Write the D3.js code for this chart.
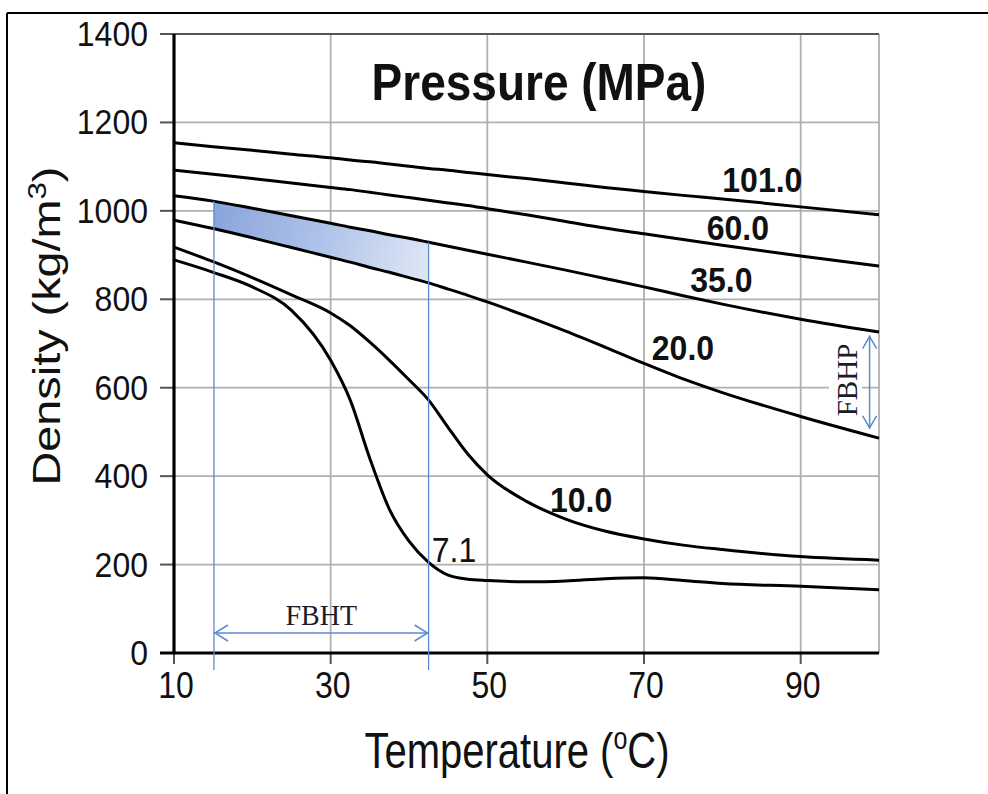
<!DOCTYPE html>
<html>
<head>
<meta charset="utf-8">
<script src="https://cdn.jsdelivr.net/npm/d3@7"></script>
<style>
  html, body { margin: 0; padding: 0; background: #fff; }
  svg { display: block; }
</style>
</head>
<body>
<svg id="chart" width="988" height="794"></svg>
<script>
// ---------------- DATA ----------------
const temperature = [10, 15, 20, 25, 30, 32.5, 35, 37.5, 40, 42.5, 45, 47.5, 50, 55, 60, 65, 70, 75, 80, 90, 100];
const density101 = [1154, 1145, 1137, 1128, 1120, 1115, 1111, 1106, 1101, 1096, 1092, 1087, 1082, 1073, 1063, 1053, 1044, 1035, 1027, 1009, 991];
const density60  = [1092, 1083, 1073, 1063, 1053, 1048, 1042, 1036, 1030, 1024, 1018, 1012, 1005, 991, 976, 961, 948, 935, 922, 898, 875];
const density35  = [1034, 1022, 1006, 989, 972, 963, 955, 946, 938, 929, 920, 911, 902, 884, 866, 847, 828, 808, 789, 755, 726];
const density20  = [979, 960, 939, 917, 895, 884, 872, 861, 849, 837, 823, 809, 794, 762, 728, 692, 655, 620, 589, 535, 486];
const density10  = [918, 885, 849, 810, 769, 740, 703, 662, 618, 572, 510, 450, 403, 343, 303, 276, 258, 244, 234, 218, 210];
const density7_1 = [889, 861, 828, 775, 662, 572, 440, 325, 253, 205, 176, 167, 164, 161, 163, 168, 170, 164, 157, 151, 143];

const pressureLabels = ["101.0", "60.0", "35.0", "20.0", "10.0", "7.1"];
const seriesValues = [density101, density60, density35, density20, density10, density7_1];
// label anchor (temperature, density) for each pressure label
const labelTemps = [80.0, 78.0, 75.9, 71.0, 58.0, 42.9];
const labelDens  = [1043, 934, 817, 663, 319, 206];

const xTicks = [10, 30, 50, 70, 90];
const yTicks = [0, 200, 400, 600, 800, 1000, 1200, 1400];
const xGrid = [30, 50, 70, 90, 100];
const yGrid = [200, 400, 600, 800, 1000, 1200];

const fbhtRange = [15.1, 42.5];   // temperature window
const fbhpRange = [507, 718];     // density window
const fbhpTemp = 98.8;

const titleText = "Pressure (MPa)";

// ---------------- SETUP ----------------
const svg = d3.select("#chart");
const x = d3.scaleLinear().domain([10, 100]).range([174, 879]);
const y = d3.scaleLinear().domain([0, 1400]).range([653, 34]);
const FONT = "'Liberation Sans', Arial, Helvetica, sans-serif";
const SERIF = "'Liberation Serif', 'Times New Roman', serif";

function interp(arr, t) {
  for (let i = 0; i < temperature.length - 1; i++) {
    if (t >= temperature[i] && t <= temperature[i + 1]) {
      const f = (t - temperature[i]) / (temperature[i + 1] - temperature[i]);
      return arr[i] + f * (arr[i + 1] - arr[i]);
    }
  }
  return arr[arr.length - 1];
}

function sText(g, px, py, str, size, opts = {}) {
  const sy = opts.sy || 1.12;
  const t = g.append("text")
    .attr("transform", `translate(${px},${py}) scale(1,${sy})`)
    .attr("font-family", opts.family || FONT)
    .attr("font-size", size)
    .attr("font-weight", opts.weight || "normal")
    .attr("text-anchor", opts.anchor || "start")
    .attr("fill", opts.fill || "#111");
  t.text(str);
  return t;
}

// ---------------- OUTER FRAME ----------------
svg.append("line").attr("x1", 7).attr("x2", 7).attr("y1", 13).attr("y2", 794)
  .attr("stroke", "#000").attr("stroke-width", 2);
svg.append("line").attr("x1", 7).attr("x2", 988).attr("y1", 13).attr("y2", 13)
  .attr("stroke", "#000").attr("stroke-width", 2);

// ---------------- GRID ----------------
const grid = svg.append("g");
grid.selectAll("line.h").data(yGrid).join("line")
  .attr("x1", x(10)).attr("x2", x(100))
  .attr("y1", d => y(d)).attr("y2", d => y(d))
  .attr("stroke", "#b0b0b0").attr("stroke-width", 1.8);
grid.selectAll("line.v").data(xGrid).join("line")
  .attr("x1", d => x(d)).attr("x2", d => x(d))
  .attr("y1", y(1400)).attr("y2", y(0))
  .attr("stroke", "#b0b0b0").attr("stroke-width", 1.8);
grid.append("line").attr("x1", 160).attr("x2", x(100))
  .attr("y1", y(1400)).attr("y2", y(1400))
  .attr("stroke", "#555").attr("stroke-width", 2.2);

// ---------------- SHADED FBHT REGION ----------------
const defs = svg.append("defs");
const grad = defs.append("linearGradient").attr("id", "shade")
  .attr("gradientUnits", "userSpaceOnUse")
  .attr("x1", x(fbhtRange[0])).attr("y1", y(990))
  .attr("x2", x(fbhtRange[1])).attr("y2", y(860));
grad.append("stop").attr("offset", "0%").attr("stop-color", "#8aa5db");
grad.append("stop").attr("offset", "50%").attr("stop-color", "#afc3e9");
grad.append("stop").attr("offset", "100%").attr("stop-color", "#dfe7f6");
defs.append("clipPath").attr("id", "fbhtClip").append("rect")
  .attr("x", x(fbhtRange[0])).attr("width", x(fbhtRange[1]) - x(fbhtRange[0]))
  .attr("y", 0).attr("height", 794);

const areaData = temperature.map((t, i) => ({ t, top: density35[i], bot: density20[i] }));
svg.append("path").datum(areaData)
  .attr("clip-path", "url(#fbhtClip)")
  .attr("fill", "url(#shade)")
  .attr("d", d3.area().x(d => x(d.t)).y0(d => y(d.bot)).y1(d => y(d.top)).curve(d3.curveMonotoneX));

// ---------------- AXES ----------------
const axes = svg.append("g");
axes.selectAll("line.yt").data(yTicks).join("line")
  .attr("x1", 160).attr("x2", x(10)).attr("y1", d => y(d)).attr("y2", d => y(d))
  .attr("stroke", "#555").attr("stroke-width", 2);
axes.selectAll("line.xt").data(xTicks).join("line")
  .attr("x1", d => x(d)).attr("x2", d => x(d)).attr("y1", y(0)).attr("y2", y(0) + 11)
  .attr("stroke", "#555").attr("stroke-width", 2);
axes.append("line").attr("x1", x(10)).attr("x2", x(10)).attr("y1", y(1400)).attr("y2", y(0) + 1)
  .attr("stroke", "#000").attr("stroke-width", 3.2);
axes.append("line").attr("x1", 160).attr("x2", x(100)).attr("y1", y(0)).attr("y2", y(0))
  .attr("stroke", "#000").attr("stroke-width", 3.2);

yTicks.forEach(v => sText(axes, 148, y(v) + 12, String(v), 32, { anchor: "end", sy: 1.12 }));
xTicks.forEach(v => sText(axes, x(v) + 2, 698, String(v), 32, { anchor: "middle", sy: 1.15 }));

const yt = axes.append("text")
  .attr("transform", "translate(60,326) scale(1,1.2) rotate(-90)")
  .attr("font-family", FONT).attr("font-size", 39).attr("text-anchor", "middle").attr("fill", "#111");
yt.append("tspan").text("Density (kg/m");
yt.append("tspan").attr("font-size", 26).attr("dy", -14).text("3");
yt.append("tspan").attr("dy", 14).text(")");

const xt = axes.append("text")
  .attr("transform", "translate(517,768) scale(1,1.25)")
  .attr("font-family", FONT).attr("font-size", 40).attr("text-anchor", "middle").attr("fill", "#111");
xt.append("tspan").text("Temperature (");
xt.append("tspan").attr("font-size", 25).attr("dy", -15).text("o");
xt.append("tspan").attr("dy", 15).text("C)");

sText(svg, 539, 100, titleText, 46, { anchor: "middle", weight: "bold", sy: 1.12 });

// ---------------- CURVES ----------------
const line = d3.line().x(d => x(d.t)).y(d => y(d.v)).curve(d3.curveMonotoneX);
seriesValues.forEach(vals => {
  svg.append("path")
    .datum(temperature.map((t, i) => ({ t, v: vals[i] })))
    .attr("fill", "none").attr("stroke", "#000").attr("stroke-width", 3)
    .attr("stroke-linejoin", "round")
    .attr("d", line);
});

pressureLabels.forEach((lab, i) => {
  sText(svg, x(labelTemps[i]), y(labelDens[i]), lab, 32,
    { weight: lab === "7.1" ? "normal" : "bold", sy: 1.1 });
});

// ---------------- FBHT ANNOTATION ----------------
const blue = "#5b8ad2";
const ann = svg.append("g");
fbhtRange.forEach(t => {
  ann.append("line")
    .attr("x1", x(t)).attr("x2", x(t))
    .attr("y1", y(interp(density35, t))).attr("y2", 670)
    .attr("stroke", blue).attr("stroke-width", 1.3);
});
const arrowY = 633;
const xa = x(fbhtRange[0]), xb = x(fbhtRange[1]);
ann.append("line").attr("x1", xa).attr("x2", xb).attr("y1", arrowY).attr("y2", arrowY)
  .attr("stroke", blue).attr("stroke-width", 1.5);
ann.append("path").attr("d", `M${xa + 14},${arrowY - 8} L${xa + 1},${arrowY} L${xa + 14},${arrowY + 8}`)
  .attr("fill", "none").attr("stroke", blue).attr("stroke-width", 1.5);
ann.append("path").attr("d", `M${xb - 14},${arrowY - 8} L${xb - 1},${arrowY} L${xb - 14},${arrowY + 8}`)
  .attr("fill", "none").attr("stroke", blue).attr("stroke-width", 1.5);
sText(ann, (xa + xb) / 2, 625, "FBHT", 28, { anchor: "middle", family: SERIF, sy: 1.05, fill: "#1c1c2a" });

// ---------------- FBHP ANNOTATION ----------------
const xp = x(fbhpTemp);
const ya = y(fbhpRange[1]), yb = y(fbhpRange[0]);
ann.append("rect").attr("x", 829).attr("y", 340).attr("width", 33).attr("height", 76).attr("fill", "#fff");
ann.append("line").attr("x1", xp).attr("x2", xp).attr("y1", ya).attr("y2", yb)
  .attr("stroke", blue).attr("stroke-width", 1.5);
ann.append("path").attr("d", `M${xp - 7},${ya + 13} L${xp},${ya + 1} L${xp + 7},${ya + 13}`)
  .attr("fill", "none").attr("stroke", blue).attr("stroke-width", 1.5);
ann.append("path").attr("d", `M${xp - 7},${yb - 13} L${xp},${yb - 1} L${xp + 7},${yb - 13}`)
  .attr("fill", "none").attr("stroke", blue).attr("stroke-width", 1.5);
ann.append("text")
  .attr("transform", "translate(857,380) rotate(-90)")
  .attr("font-family", SERIF).attr("font-size", 29).attr("text-anchor", "middle")
  .attr("fill", "#1c1c2a").text("FBHP");
</script>
</body>
</html>
